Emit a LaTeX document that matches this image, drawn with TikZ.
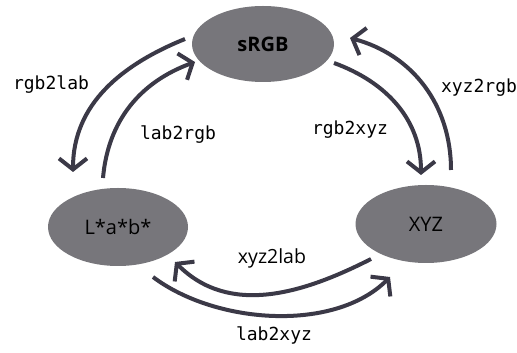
\documentclass[tikz,border=0pt]{standalone}
\usepackage{fontspec}
\setmainfont{Open Sans}
\setmonofont{DejaVu Sans Mono}
\usetikzlibrary{arrows.meta,shapes.geometric}
\definecolor{spacegray}{HTML}{77767B}
\definecolor{convline}{HTML}{3B3947}
\tikzset{
  space/.style={ellipse, fill=spacegray, inner sep=0pt, font=\fontsize{20}{22}\selectfont},
  conv/.style={draw=convline, line width=4pt, -{Straight Barb[length=11pt,width=28pt]}},
  fname/.style={font=\ttfamily\fontsize{18}{20}\selectfont}
}
\begin{document}
\begin{tikzpicture}[x=1pt,y=1pt]
      \useasboundingbox (0,0) rectangle (517,353);
      \draw
        (263,309) node[space, minimum width=142, minimum height=76] (srgb){\bfseries sRGB}
        (118,126) node[space, minimum width=140, minimum height=78] (lab){L*a*b*}
        (426,129) node[space, minimum width=141, minimum height=78] (xyz){XYZ};
      % ends of the conversion arrows
      \coordinate (rl-a) at (185,314); \coordinate (rl-b) at (73,181);
      \coordinate (lr-a) at (103,175); \coordinate (lr-b) at (195,291);
      \coordinate (rx-a) at (334,290); \coordinate (rx-b) at (421,178);
      \coordinate (xr-a) at (451,183); \coordinate (xr-b) at (350,315);
      \coordinate (xl-a) at (371,94);  \coordinate (xl-b) at (175,91);
      \coordinate (lx-a) at (153,76);  \coordinate (lx-b) at (390,76);
      \begin{scope}[conv]
        \draw (rl-a) to[out=202,in=90] (rl-b);
        \draw (lr-a) to[out=85,in=200] (lr-b);
        \draw (rx-a) to[out=-20,in=90] (rx-b);
        \draw (xr-a) to[out=90,in=-15] (xr-b);
        \draw (xl-a) to[out=207,in=-45] (xl-b);
        \draw (lx-a) to[out=-37,in=225,looseness=0.85] (lx-b);
      \end{scope}
      \node[fname] (rgb2lab) at (51,268) {rgb2lab};
      \node[fname] (lab2rgb) at (178,218) {lab2rgb};
      \node[fname] (rgb2xyz) at (350,223) {rgb2xyz};
      \node[fname] (xyz2rgb) at (479,265) {xyz2rgb};
      \node[fname] (lab2xyz) at (274,18) {lab2xyz};
      \node[font=\fontsize{19.5}{21}\selectfont] (xyz2lab) at (272,95) {xyz2lab};
    \end{tikzpicture}
\end{document}
